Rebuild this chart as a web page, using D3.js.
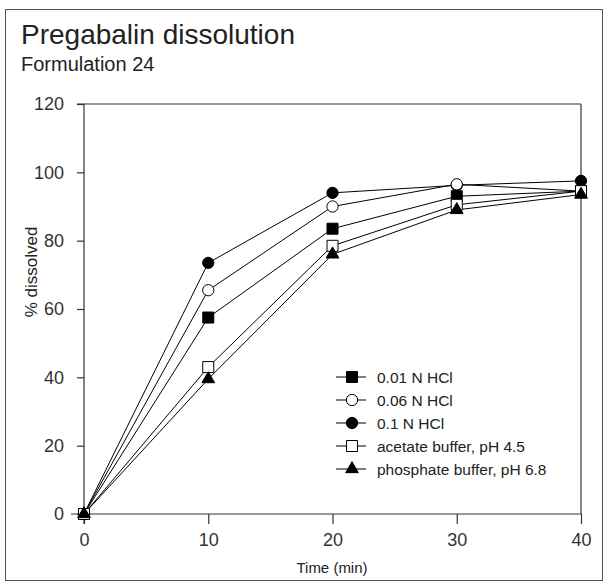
<!DOCTYPE html>
<html>
<head>
<meta charset="utf-8">
<script src="https://cdn.jsdelivr.net/npm/d3@7"></script>
<style>
  body { margin: 0; background: #fff; }
  svg { font-family: "Liberation Sans", Arial, sans-serif; }
</style>
</head>
<body>
<svg width="607" height="585"><g id="vis"></g></svg>
<script>
// data
const times = [0, 10, 20, 30, 40]
const seriesNames = ['0.01 N HCl', '0.06 N HCl', '0.1 N HCl', 'acetate buffer, pH 4.5', 'phosphate buffer, pH 6.8']
const hcl001 = [0, 57.5, 83.5, 93, 94.5]
const hcl006 = [0, 65.5, 90, 96.5, 94.5]
const hcl01 = [0, 73.5, 94, 96.2, 97.5]
const acetate = [0, 43, 78.5, 90.5, 94.5]
const phosphate = [0, 39.5, 76, 89, 93.5]
const xTicks = [0, 10, 20, 30, 40]
const yTicks = [0, 20, 40, 60, 80, 100, 120]

const svg = d3.select('svg')
const vis = svg.select('#vis')

const xScale = d3.scaleLinear().domain([0, 40]).range([84, 581])
const yScale = d3.scaleLinear().domain([0, 120]).range([514, 104])

// outer frame
vis.append('rect')
  .attr('x', 5.5).attr('y', 9.5)
  .attr('width', 597).attr('height', 571)
  .style('fill', 'none').style('stroke', '#555').style('stroke-width', 1)

// titles
vis.append('text')
  .attr('x', 21).attr('y', 44)
  .style('font-size', '28px').style('fill', '#222')
  .text('Pregabalin dissolution')
vis.append('text')
  .attr('x', 21).attr('y', 71)
  .style('font-size', '20px').style('fill', '#222')
  .text('Formulation 24')

// axes
const xAxis = vis.append('g')
  .attr('transform', 'translate(0,514)')
  .call(d3.axisBottom(xScale).tickValues(xTicks).tickSize(10).tickPadding(9))
const yAxis = vis.append('g')
  .attr('transform', 'translate(84,0)')
  .call(d3.axisLeft(yScale).tickValues(yTicks).tickSize(7).tickPadding(13))

;[xAxis, yAxis].forEach(function (ax) {
  ax.select('.domain').remove()
  ax.selectAll('line').style('stroke', '#333').style('stroke-width', 1.2)
  ax.selectAll('text')
    .style('font-size', '18px').style('fill', '#333')
    .style('font-family', '"Liberation Sans", Arial, sans-serif')
})

// frame of plot
const frame = vis.append('g').style('stroke', '#333').style('stroke-width', 1.2)
frame.append('line').attr('x1', 71).attr('x2', xScale(40)).attr('y1', yScale(0)).attr('y2', yScale(0))
frame.append('line').attr('x1', xScale(0)).attr('x2', xScale(0)).attr('y1', yScale(120)).attr('y2', yScale(0) + 10)
frame.append('line').attr('x1', xScale(0) - 7).attr('x2', xScale(40)).attr('y1', yScale(120)).attr('y2', yScale(120))
frame.append('line').attr('x1', xScale(40)).attr('x2', xScale(40)).attr('y1', yScale(120)).attr('y2', yScale(0))

// axis titles
vis.append('text')
  .attr('x', 332).attr('y', 573)
  .style('text-anchor', 'middle').style('font-size', '15px').style('fill', '#222')
  .text('Time (min)')
vis.append('text')
  .attr('transform', 'translate(37,272) rotate(-90)')
  .style('text-anchor', 'middle').style('font-size', '17px').style('fill', '#222')
  .text('% dissolved')

// series, drawn in the order that gives the same overlaps as the reference
const series = [
  { name: seriesNames[2], values: hcl01, type: d3.symbolCircle, size: 100, fill: '#000' },
  { name: seriesNames[1], values: hcl006, type: d3.symbolCircle, size: 100, fill: '#fff' },
  { name: seriesNames[0], values: hcl001, type: d3.symbolSquare, size: 121, fill: '#000' },
  { name: seriesNames[3], values: acetate, type: d3.symbolSquare, size: 121, fill: '#fff' },
  { name: seriesNames[4], values: phosphate, type: d3.symbolTriangle, size: 70, fill: '#000' }
]

const line = d3.line()
  .x(function (d, i) { return xScale(times[i]) })
  .y(function (d) { return yScale(d) })

series.forEach(function (s) {
  vis.append('path')
    .attr('d', line(s.values))
    .style('fill', 'none').style('stroke', '#000').style('stroke-width', 1)
})

series.forEach(function (s) {
  vis.append('g').selectAll('path')
    .data(s.values)
    .join('path')
    .attr('transform', function (d, i) { return 'translate(' + xScale(times[i]) + ',' + yScale(d) + ')' })
    .attr('d', d3.symbol().type(s.type).size(s.size))
    .style('fill', s.fill).style('stroke', '#000').style('stroke-width', 1)
})

// legend
const legendOrder = [2, 1, 0, 3, 4]
const legend = vis.append('g').attr('transform', 'translate(352,377)')
legendOrder.forEach(function (k, row) {
  const s = series[k]
  const g = legend.append('g').attr('transform', 'translate(0,' + row * 23 + ')')
  g.append('line').attr('x1', -16).attr('x2', 14).attr('y1', 0).attr('y2', 0)
    .style('stroke', '#000').style('stroke-width', 1)
  g.append('path')
    .attr('d', d3.symbol().type(s.type).size(s.size))
    .style('fill', s.fill).style('stroke', '#000').style('stroke-width', 1)
  g.append('text')
    .attr('x', 25).attr('y', 5.5)
    .style('font-size', '15.5px').style('fill', '#222')
    .text(s.name)
})
</script>
</body>
</html>
